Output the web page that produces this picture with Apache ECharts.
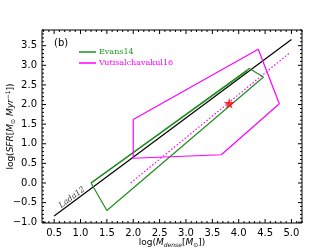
<!DOCTYPE html>
<html>
<head>
<meta charset="utf-8">
<script src="https://cdn.jsdelivr.net/npm/echarts@6/dist/echarts.min.js"></script>
<style>
  html, body { margin: 0; padding: 0; background: #fff; }
  #main { width: 336px; height: 252px; }
</style>
</head>
<body>
<div id="main"></div>
<script>
/* ---------- data ---------- */
var xTicks = [0.5, 1.0, 1.5, 2.0, 2.5, 3.0, 3.5, 4.0, 4.5, 5.0];
var yTicks = [-1.0, -0.5, 0.0, 0.5, 1.0, 1.5, 2.0, 2.5, 3.0, 3.5];

var ladaX = [0.5, 5.0];
var ladaY = [-0.84, 3.66];

var evansX = [1.2, 4.2, 4.47, 1.5, 1.2];
var evansY = [0.0, 2.92, 2.7, -0.7, 0.0];
var evansInnerX = [1.2, 4.16];
var evansInnerY = [0.0, 2.86];

var vutisX = [2.0, 4.37, 4.77, 3.67, 2.0, 2.0];
var vutisY = [1.62, 3.41, 2.02, 0.72, 0.63, 1.62];
var vutisFitX = [1.95, 4.95];
var vutisFitY = [0.0, 3.3];

var starX = [3.82];
var starY = [2.03];

var ladaLabelX = [0.84];
var ladaLabelY = [-0.37];

/* ---------- helpers ---------- */
var X_MIN = 0.27, X_MAX = 5.2;
var Y_MIN = -1.02, Y_MAX = 3.9;
var TICK_COLOR = '#000';

function pairs(xs, ys) {
    return xs.map(function (x, i) { return [x, ys[i]]; });
}

function minors(lo, hi) {
    var out = [];
    for (var k = Math.ceil(lo * 10); k <= Math.floor(hi * 10); k++) {
        if (k % 5 !== 0) out.push(k / 10);
    }
    return out;
}

function fmt(v) {
    return Number(v).toFixed(1).replace('-', '\u2212');
}

var xName = 'log({i|M}{sub|dense}[{i|M}{sub|\u2299}])';
var yName = 'log({i|SFR}[{i|M}{sub|\u2299} {i|Myr}{sup|\u22121}])';
var nameRich = {
    i: { fontFamily: 'DejaVu Sans', fontStyle: 'italic', fontSize: 9, color: '#000' },
    sub: { fontFamily: 'DejaVu Sans', fontStyle: 'italic', fontSize: 6, color: '#000', padding: [5, 0, 0, 0] },
    sup: { fontFamily: 'DejaVu Sans', fontSize: 6, color: '#000', padding: [0, 0, 5, 0] }
};

function axis(dim, ticks, name, gap) {
    return {
        type: 'value',
        min: dim === 'x' ? X_MIN : Y_MIN,
        max: dim === 'x' ? X_MAX : Y_MAX,
        splitLine: { show: false },
        axisLine: { show: false },
        axisTick: { show: false },
        axisLabel: {
            show: true, customValues: ticks, formatter: fmt, margin: 5,
            fontFamily: 'DejaVu Sans', fontSize: 10, color: '#000'
        },
        name: name,
        nameLocation: 'middle',
        nameGap: gap,
        nameMoveOverlap: false,
        nameTextStyle: { fontFamily: 'DejaVu Sans', fontSize: 9, color: '#000', rich: nameRich }
    };
}

/* tick marks drawn inside the frame on all four sides */
function renderTicks(params, api) {
    var kids = [];
    function add(p, dx, dy) {
        kids.push({
            type: 'line',
            shape: { x1: p[0], y1: p[1], x2: p[0] + dx, y2: p[1] + dy },
            style: { stroke: TICK_COLOR, lineWidth: 1 }
        });
    }
    var xm = minors(X_MIN, X_MAX), ym = minors(Y_MIN, Y_MAX);
    xTicks.forEach(function (v) {
        add(api.coord([v, Y_MIN]), 0, -4);
        add(api.coord([v, Y_MAX]), 0, 4);
    });
    xm.forEach(function (v) {
        add(api.coord([v, Y_MIN]), 0, -2);
        add(api.coord([v, Y_MAX]), 0, 2);
    });
    yTicks.forEach(function (v) {
        add(api.coord([X_MIN, v]), 4, 0);
        add(api.coord([X_MAX, v]), -4, 0);
    });
    ym.forEach(function (v) {
        add(api.coord([X_MIN, v]), 2, 0);
        add(api.coord([X_MAX, v]), -2, 0);
    });
    return { type: 'group', children: kids };
}

var chart = echarts.init(document.getElementById('main'), null, { renderer: 'canvas' });

chart.setOption({
    animation: false,
    backgroundColor: '#fff',
    grid: {
        left: 42, top: 30, right: 34, bottom: 29, containLabel: false, outerBoundsMode: 'none',
        show: true, borderColor: '#000', borderWidth: 1, backgroundColor: 'transparent'
    },
    title: {
        text: '(b)', left: 54, top: 38, padding: 0,
        textStyle: { fontFamily: 'DejaVu Sans', fontSize: 10, fontWeight: 'normal', color: '#000' }
    },
    legend: {
        data: [
            { name: 'Evans14', textStyle: { color: '#1f9a1f' } },
            { name: 'Vutisalchavakul16', textStyle: { color: '#ff00ff' } }
        ],
        orient: 'vertical',
        left: 79, top: 47, padding: 0,
        icon: 'rect',
        itemWidth: 17, itemHeight: 1.5, itemGap: 1,
        textStyle: { fontFamily: 'DejaVu Serif', fontSize: 8, lineHeight: 10, padding: [0, 0, 0, -2] }
    },
    xAxis: axis('x', xTicks, xName, 14),
    yAxis: axis('y', yTicks, yName, 26),
    series: [
        {
            name: 'Lada12', type: 'line', data: pairs(ladaX, ladaY),
            symbol: 'none', lineStyle: { color: '#000', width: 1.2 }, z: 3
        },
        {
            name: 'Evans14', type: 'line', data: pairs(evansX, evansY),
            symbol: 'none', lineStyle: { color: '#1f8f1f', width: 1.2 }, itemStyle: { color: '#1f8f1f' }
        },
        {
            name: 'EvansInner', type: 'line', data: pairs(evansInnerX, evansInnerY),
            symbol: 'none', lineStyle: { color: '#1f8f1f', width: 1.2 }
        },
        {
            name: 'Vutisalchavakul16', type: 'line', data: pairs(vutisX, vutisY),
            symbol: 'none', lineStyle: { color: '#ff00ff', width: 1.2 }, itemStyle: { color: '#ff00ff' }
        },
        {
            name: 'VutisFit', type: 'line', data: pairs(vutisFitX, vutisFitY),
            symbol: 'none', lineStyle: { color: '#ff00ff', width: 1.2, type: [1.5, 2] }
        },
        {
            name: 'star', type: 'scatter', data: pairs(starX, starY),
            symbol: 'path://M50,0 L61,35 L98,35 L68,57 L79,91 L50,70 L21,91 L32,57 L2,35 L39,35 Z',
            symbolSize: 11, itemStyle: { color: '#ff0000' }, z: 5
        },
        {
            name: 'ladaLabel', type: 'scatter', data: pairs(ladaLabelX, ladaLabelY),
            symbolSize: 0, silent: true,
            label: {
                show: true, position: 'inside', formatter: 'Lada12', rotate: 36.6,
                fontFamily: 'DejaVu Serif', fontStyle: 'italic', fontSize: 8, color: '#000'
            }
        },
        {
            name: 'ticks', type: 'custom', data: [[1, 1]],
            renderItem: renderTicks, silent: true, clip: false, z: 10
        }
    ]
});
</script>
</body>
</html>
